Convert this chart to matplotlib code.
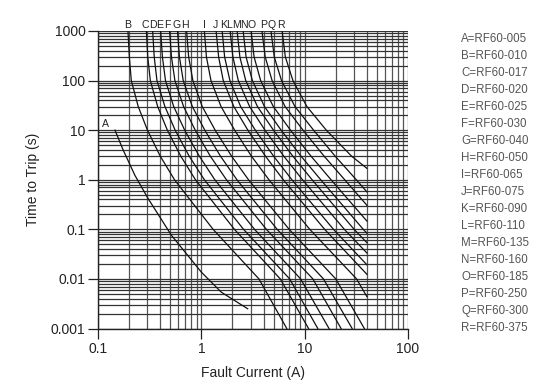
import matplotlib
matplotlib.use("Agg")
import matplotlib.pyplot as plt
from matplotlib.ticker import LogLocator, FixedLocator, NullFormatter, FixedFormatter

plt.rcParams['font.family'] = ['Liberation Sans', 'DejaVu Sans']

# ---- data ----
y_levels = [1000, 300, 100, 30, 10, 3, 1, 0.1, 0.01, 0.001]

curve_names = ["A", "B", "C", "D", "E", "F", "G", "H", "I", "J", "K", "L", "M", "N", "O", "P", "Q", "R"]
part_numbers = ["RF60-005", "RF60-010", "RF60-017", "RF60-020", "RF60-025", "RF60-030",
                "RF60-040", "RF60-050", "RF60-065", "RF60-075", "RF60-090", "RF60-110",
                "RF60-135", "RF60-160", "RF60-185", "RF60-250", "RF60-300", "RF60-375"]
# x position (A) of the letter tags above the plot, B..R
label_x = [0.193, 0.288, 0.339, 0.396, 0.472, 0.581, 0.689, 1.074, 1.37, 1.64,
           1.87, 2.17, 2.61, 3.07, 3.97, 4.82, 5.89]

A_x = [0.146, 0.175, 0.2275, 0.3055, 0.514, 1.0, 1.56, 2.81]
A_y = [10, 4, 1.23, 0.417, 0.0757, 0.0137, 0.0054, 0.0025]
B_x = [0.195, 0.201, 0.210, 0.245, 0.301, 0.400, 0.550, 1.30, 3.61, 6.71]
B_y = y_levels
C_x = [0.294, 0.303, 0.321, 0.378, 0.469, 0.632, 0.877, 2.09, 5.81, 10.9]
C_y = y_levels
D_x = [0.338, 0.350, 0.372, 0.444, 0.558, 0.762, 1.07, 2.56, 7.16, 13.4]
D_y = y_levels
E_x = [0.404, 0.420, 0.450, 0.540, 0.690, 0.955, 1.35, 3.27, 9.14, 17.2]
E_y = y_levels
F_x = [0.493, 0.514, 0.555, 0.673, 0.873, 1.22, 1.75, 4.26, 12.0, 22.5]
F_y = y_levels
G_x = [0.588, 0.614, 0.668, 0.818, 1.08, 1.53, 2.21, 5.42, 15.2, 28.8]
G_y = y_levels
H_x = [0.720, 0.754, 0.828, 1.02, 1.36, 1.96, 2.86, 7.08, 20.0, 37.8]
H_y = y_levels
I_x = [1.07, 1.12, 1.24, 1.55, 2.10, 3.05, 4.51, 11.2, 31.8, 40]
I_y = [1000, 300, 100, 30, 10, 3, 1, 0.1, 0.01, 0.0044]
J_x = [1.39, 1.47, 1.63, 2.06, 2.82, 4.17, 6.21, 15.6, 40]
J_y = [1000, 300, 100, 30, 10, 3, 1, 0.1, 0.0124]
K_x = [1.59, 1.68, 1.89, 2.40, 3.33, 5.00, 7.52, 19.0, 40]
K_y = [1000, 300, 100, 30, 10, 3, 1, 0.1, 0.0193]
L_x = [1.90, 2.02, 2.28, 2.93, 4.13, 6.27, 9.53, 24.2, 40]
L_y = [1000, 300, 100, 30, 10, 3, 1, 0.1, 0.0333]
M_x = [2.22, 2.36, 2.69, 3.49, 4.99, 7.67, 11.8, 30.1, 40]
M_y = [1000, 300, 100, 30, 10, 3, 1, 0.1, 0.0538]
N_x = [2.54, 2.71, 3.12, 4.08, 5.92, 9.21, 14.3, 36.9, 40]
N_y = [1000, 300, 100, 30, 10, 3, 1, 0.1, 0.0837]
O_x = [3.03, 3.24, 3.75, 4.97, 7.29, 11.5, 18.0, 40]
O_y = [1000, 300, 100, 30, 10, 3, 1, 0.147]
P_x = [3.86, 4.15, 4.84, 6.46, 9.64, 15.4, 24.4, 40]
P_y = [1000, 300, 100, 30, 10, 3, 1, 0.306]
Q_x = [4.72, 5.08, 5.97, 8.05, 12.2, 19.7, 31.6, 40]
Q_y = [1000, 300, 100, 30, 10, 3, 1, 0.569]
R_x = [6.05, 6.5, 7.7, 10.5, 16.2, 28.4, 40]
R_y = [1000, 300, 100, 30, 10, 3, 1.7]

curves_x = [A_x, B_x, C_x, D_x, E_x, F_x, G_x, H_x, I_x, J_x, K_x, L_x, M_x, N_x, O_x, P_x, Q_x, R_x]
curves_y = [A_y, B_y, C_y, D_y, E_y, F_y, G_y, H_y, I_y, J_y, K_y, L_y, M_y, N_y, O_y, P_y, Q_y, R_y]

x_ticks = [0.1, 1, 10, 100]
x_ticklabels = ["0.1", "1", "10", "100"]
y_ticks = [0.001, 0.01, 0.1, 1, 10, 100, 1000]
y_ticklabels = ["0.001", "0.01", "0.1", "1", "10", "100", "1000"]

# ---- figure ----
W, H = 545, 387
fig = plt.figure(figsize=(W / 100, H / 100), dpi=100)
ax = fig.add_axes([98 / W, 1 - 328.5 / H, (408 - 98) / W, (328.5 - 31) / H])
ax.set_xscale('log')
ax.set_yscale('log')
ax.set_xlim(0.1, 100)
ax.set_ylim(0.001, 1000)

ax.xaxis.set_major_locator(FixedLocator(x_ticks))
ax.xaxis.set_major_formatter(FixedFormatter(x_ticklabels))
ax.yaxis.set_major_locator(FixedLocator(y_ticks))
ax.yaxis.set_major_formatter(FixedFormatter(y_ticklabels))
ax.xaxis.set_minor_locator(LogLocator(base=10, subs=range(2, 10), numticks=20))
ax.yaxis.set_minor_locator(LogLocator(base=10, subs=range(2, 10), numticks=20))
ax.xaxis.set_minor_formatter(NullFormatter())
ax.yaxis.set_minor_formatter(NullFormatter())

ax.grid(True, which='both', axis='x', color='#555555', linewidth=0.9)
ax.grid(True, which='both', axis='y', color='#333333', linewidth=0.9)
ax.set_axisbelow(True)

ax.tick_params(axis='x', which='major', direction='out', length=7, width=0.9, color='#222222',
               labelsize=10, labelcolor='#222222', pad=3)
ax.tick_params(axis='y', which='major', direction='out', length=7, width=0.9, color='#222222',
               labelsize=10, labelcolor='#222222', pad=2)
ax.tick_params(which='minor', length=0)
for side in ['top', 'right']:
    ax.spines[side].set_visible(False)
for side in ['left', 'bottom']:
    ax.spines[side].set_color('#222222')
    ax.spines[side].set_linewidth(1.0)

for cx, cy in zip(curves_x, curves_y):
    ax.plot(cx, cy, color='#111111', linewidth=0.9, clip_on=True)

# curve letter labels
for name, lx in zip(curve_names[1:], label_x):
    ax.text(lx, 1000 * 10 ** 0.13, name, ha='center', va='center',
            fontsize=7.6, color='#222222')
ax.text(0.117, 13.5, "A", ha='center', va='center', fontsize=7.6, color='#222222')

ax.set_xlabel("Fault Current (A)", fontsize=10, color='#222222', labelpad=7)
ax.set_ylabel("Time to Trip (s)", fontsize=10, color='#222222', labelpad=8)

# legend text at right
for i, (name, pn) in enumerate(zip(curve_names, part_numbers)):
    fig.text(461 / W, 1 - (39.5 + i * 16.95) / H, f"{name}={pn}", ha='left', va='center',
             fontsize=8.3, color='#555555')

fig.savefig("out.png", dpi=100)
